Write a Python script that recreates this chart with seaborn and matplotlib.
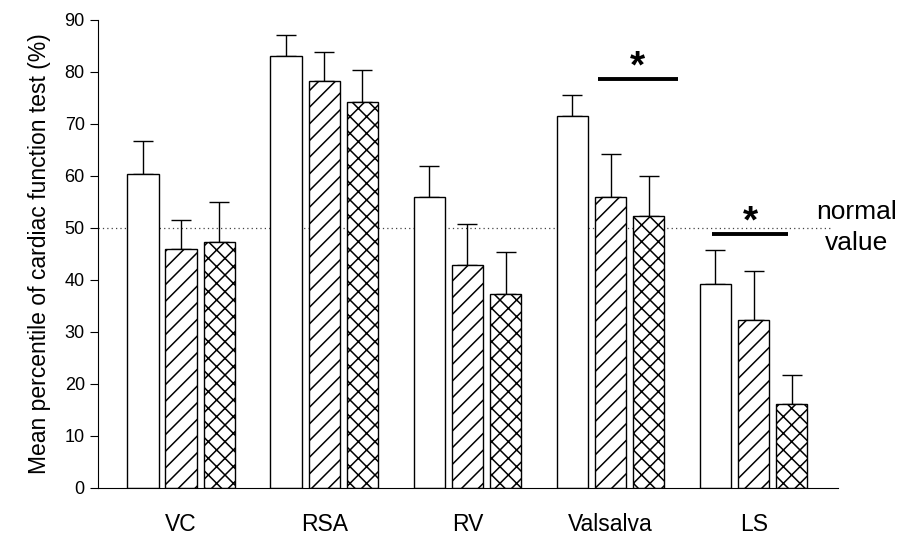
import numpy as np
import pandas as pd
import seaborn as sns
import matplotlib.pyplot as plt

tests = ["VC", "RSA", "RV", "Valsalva", "LS"]
groups = ["g1", "g2", "g3"]
means_g1 = [60.3, 83.0, 56.0, 71.5, 39.3]
means_g2 = [46.0, 78.2, 42.8, 56.0, 32.4]
means_g3 = [47.3, 74.3, 37.3, 52.4, 16.1]
errtop_g1 = [66.8, 87.2, 62.0, 75.6, 45.7]
errtop_g2 = [51.6, 83.8, 50.8, 64.2, 41.7]
errtop_g3 = [55.0, 80.3, 45.4, 60.0, 21.7]
normal_value = 50

sns.set_style("ticks")
plt.rcParams['font.family'] = ['Liberation Sans', 'DejaVu Sans']
plt.rcParams['hatch.linewidth'] = 1.1
for k in ["text.color", "axes.labelcolor", "xtick.color", "ytick.color", "axes.edgecolor"]:
    plt.rcParams[k] = "black"

df = pd.DataFrame({
    "test": tests * 3,
    "group": [g for g in groups for _ in tests],
    "mean": means_g1 + means_g2 + means_g3,
    "top": errtop_g1 + errtop_g2 + errtop_g3,
})

fig = plt.figure(figsize=(9.12, 5.4), dpi=100)
ax = fig.add_axes([0.1075, 0.0963, 0.8115, 0.8667])

sns.barplot(data=df, x="test", y="mean", hue="group", order=tests,
            hue_order=groups, palette=["white"] * 3, edgecolor="black",
            linewidth=1.0, width=0.8, gap=0.18, legend=False, ax=ax, zorder=2)

hatches = ["", "//", "xx"]
for i, cont in enumerate(ax.containers):
    for p in cont:
        p.set_hatch(hatches[i])

# upward error bars only
for i, g in enumerate(groups):
    sub = df[df["group"] == g].set_index("test").loc[tests]
    xs = [p.get_x() + p.get_width() / 2 for p in ax.containers[i]]
    ax.errorbar(xs, sub["mean"], yerr=[np.zeros(len(tests)), sub["top"] - sub["mean"]],
                fmt="none", ecolor="black", elinewidth=1.0, capsize=7, capthick=1.0, zorder=1)

ax.set_xlim(-0.58, 4.59)
ax.set_ylim(0, 90)
ax.set_yticks(range(0, 91, 10))
ax.hlines(normal_value, -0.58, 4.54, colors="#444444", linestyles=(0, (1, 2.5)), lw=0.9, zorder=0)
ax.text(4.72, 53.0, "normal", fontsize=19, ha="center", va="center")
ax.text(4.72, 47.2, "value", fontsize=19, ha="center", va="center")

# significance markers
ax.plot([2.91, 3.47], [78.6, 78.6], color="black", lw=2.8, solid_capstyle="butt")
ax.text(3.19, 80.8, "*", fontsize=28, fontweight="bold", ha="center", va="center")
ax.plot([3.71, 4.24], [48.9, 48.9], color="black", lw=2.8, solid_capstyle="butt")
ax.text(3.98, 51.1, "*", fontsize=28, fontweight="bold", ha="center", va="center")

ax.set_xlabel("")
ax.set_ylabel("Mean percentile of cardiac function test (%)", fontsize=16.5, labelpad=10)
ax.tick_params(axis="x", length=0, pad=18, labelsize=16.5)
ax.tick_params(axis="y", length=6, labelsize=13)
sns.despine(ax=ax)

fig.savefig("out.png", dpi=100)
